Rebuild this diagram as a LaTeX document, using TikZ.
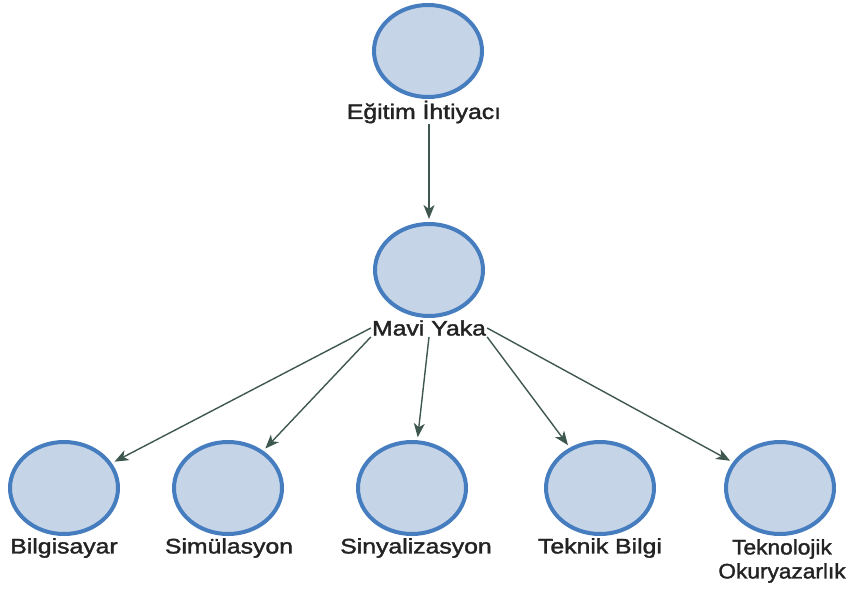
\documentclass[tikz,border=0pt]{standalone}
\usepackage{fontspec}
\setmainfont{Liberation Sans}
\newfontfamily\lblfont{Liberation Sans}[FakeBold=1.6]
\usetikzlibrary{arrows.meta,shapes.geometric}
\definecolor{ringc}{RGB}{70,125,190}
\definecolor{fillc}{RGB}{198,212,232}
\definecolor{arrc}{RGB}{62,88,80}
\definecolor{txtc}{RGB}{35,35,35}
\newcommand{\lbl}[1]{\scalebox{1.18}[1]{#1}}
\newcommand{\lblb}[1]{\scalebox{1.08}[1]{#1}}
\tikzset{
  conc/.style={ellipse, draw=ringc, line width=4pt, fill=fillc, minimum width=108pt, minimum height=92pt, inner sep=0pt},
  lab/.style={font=\lblfont\fontsize{21}{24}\selectfont, text=txtc, inner sep=1pt, align=center},
  link/.style={draw=arrc, line width=1.4pt, -{Stealth[length=14pt,width=11pt,inset=4pt]}, shorten >=3pt}
}
\begin{document}
\begin{tikzpicture}[x=1pt,y=-1pt]
\useasboundingbox (0,0) rectangle (853,589);
\node[conc] (e) at (428,51) {};
\node[lab] (el) at (424,112) {\lbl{Eğitim İhtiyacı}};
\node[conc] (m) at (429,270) {};
\node[lab] (ml) at (429,328) {\lbl{Mavi Yaka}};
\node[conc] (b1) at (64,488) {};
\node[conc] (b2) at (228,488) {};
\node[conc] (b3) at (412,488) {};
\node[conc] (b4) at (600,488) {};
\node[conc] (b5) at (780,488) {};
\node[lab] (l1) at (64,548) {\lbl{Bilgisayar}};
\node[lab] (l2) at (229,548) {\lbl{Simülasyon}};
\node[lab] (l3) at (416,548) {\lbl{Sinyalizasyon}};
\node[lab] (l4) at (600,548) {\lbl{Teknik Bilgi}};
\node[lab] (l5) at (782,561) {\lblb{Teknolojik}\\\lblb{Okuryazarlık}};
\draw[link] (el.south -| m.north) -- (m.north);
\draw[link] (ml.west) -- (b1);
\draw[link] (ml.south west) -- (b2);
\draw[link] (ml.south) -- (b3);
\draw[link] (ml.south east) -- (b4);
\draw[link] (ml.east) -- (b5);
\end{tikzpicture}
\end{document}
